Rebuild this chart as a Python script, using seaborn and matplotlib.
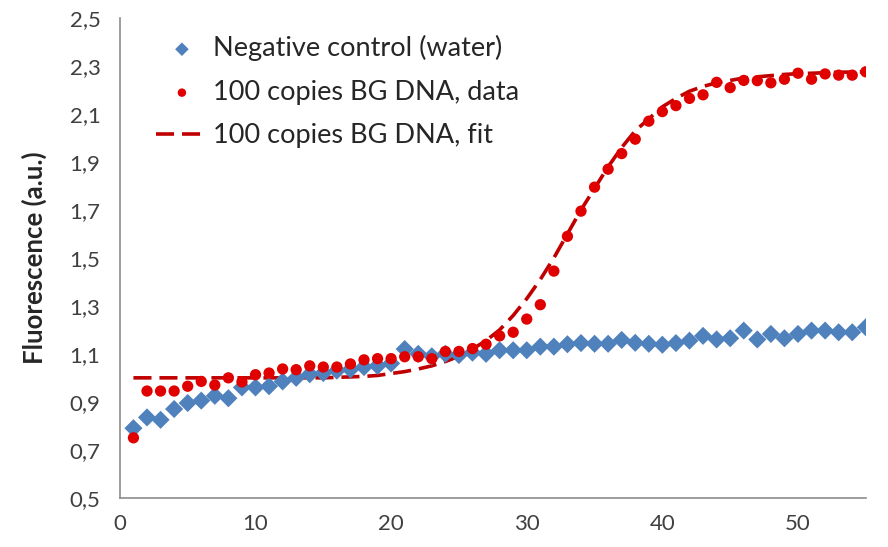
import seaborn as sb
import matplotlib.pyplot as plt
import pandas as pd
import numpy as np

# cycles 1..55
cycles = list(range(1, 56))

water = [0.79, 0.835, 0.825, 0.87, 0.895, 0.905, 0.925, 0.915, 0.96, 0.96,
         0.965, 0.985, 1.0, 1.015, 1.02, 1.03, 1.035, 1.045, 1.05, 1.06,
         1.12, 1.10, 1.09, 1.10, 1.095, 1.105, 1.10, 1.115, 1.115, 1.115,
         1.13, 1.13, 1.14, 1.145, 1.142, 1.142, 1.158, 1.146, 1.142, 1.138,
         1.145, 1.155, 1.175, 1.16, 1.165, 1.197, 1.16, 1.183, 1.165, 1.183,
         1.197, 1.197, 1.19, 1.19, 1.211]

bg_data = [0.75, 0.945, 0.945, 0.945, 0.965, 0.985, 0.97, 1.0, 0.983, 1.013,
           1.02, 1.037, 1.034, 1.05, 1.045, 1.045, 1.058, 1.075, 1.08, 1.08,
           1.088, 1.088, 1.08, 1.11, 1.11, 1.122, 1.14, 1.175, 1.19, 1.245,
           1.305, 1.445, 1.59, 1.695, 1.795, 1.87, 1.935, 1.995, 2.07, 2.11,
           2.135, 2.165, 2.18, 2.232, 2.21, 2.24, 2.239, 2.23, 2.245, 2.27,
           2.245, 2.267, 2.262, 2.262, 2.276]

bg_fit = [1.0, 1.0, 1.0, 1.0, 1.0, 1.0, 1.0, 1.0, 1.0, 1.0,
          1.0, 1.0, 1.0, 1.0, 1.0, 1.002, 1.004, 1.006, 1.01, 1.018,
          1.026, 1.037, 1.05, 1.068, 1.09, 1.12, 1.155, 1.2, 1.26, 1.33,
          1.41, 1.5, 1.6, 1.7, 1.79, 1.88, 1.96, 2.03, 2.08, 2.13,
          2.165, 2.195, 2.215, 2.23, 2.24, 2.25, 2.255, 2.26, 2.265, 2.268,
          2.27, 2.272, 2.274, 2.275, 2.276]

y_ticks = [0.5, 0.7, 0.9, 1.1, 1.3, 1.5, 1.7, 1.9, 2.1, 2.3, 2.5]
x_ticks = [0, 10, 20, 30, 40, 50]

df = pd.DataFrame({"cycle": cycles, "water": water, "data": bg_data, "fit": bg_fit})

sb.set_style("white")
plt.rcParams['font.family'] = ['Lato', 'DejaVu Sans']

fig = plt.figure(figsize=(8.88, 5.47), dpi=100)
ax = fig.add_axes([0.135, 0.09, 0.84, 0.877])

axis_grey = "#8c8c8c"
text_grey = "#404040"

sb.lineplot(x="cycle", y="fit", data=df, ax=ax, color="#C00000", linewidth=2.6,
            label="100 copies BG DNA, fit", zorder=2)
ax.lines[-1].set_dashes((5, 2.2))
sb.scatterplot(x="cycle", y="water", data=df, ax=ax, marker="D", s=85, color="#4F81BD",
               edgecolor="none", label="Negative control (water)", zorder=3)
sb.scatterplot(x="cycle", y="data", data=df, ax=ax, marker="o", s=66, color="#E00000",
               edgecolor="none", label="100 copies BG DNA, data", zorder=4)

ax.set_xlim(0, 55)
ax.set_ylim(0.5, 2.5)
ax.set_xticks(x_ticks)
ax.set_yticks(y_ticks)
ax.set_yticklabels([f"{v:.1f}".replace(".", ",") for v in y_ticks])
ax.set_xticklabels([str(v) for v in x_ticks])

for side in ["top", "right"]:
    ax.spines[side].set_visible(False)
for side in ["left", "bottom"]:
    ax.spines[side].set_color(axis_grey)
    ax.spines[side].set_linewidth(1.2)

ax.tick_params(axis="both", direction="out", length=5, width=1.2, color=axis_grey,
               labelcolor=text_grey, labelsize=16)
ax.tick_params(axis="x", pad=7)
ax.tick_params(axis="y", pad=9)

ax.set_xlabel("")
ax.set_ylabel("Fluorescence (a.u.)", fontsize=18.5, fontweight="bold", color="#262626", labelpad=16)

# legend order: water, data, fit
handles, labels = ax.get_legend_handles_labels()
order = [labels.index(l) for l in ["Negative control (water)", "100 copies BG DNA, data",
                                   "100 copies BG DNA, fit"]]
leg = ax.legend([handles[i] for i in order], [labels[i] for i in order],
                loc="upper left", bbox_to_anchor=(0.016, 1.015), frameon=False,
                fontsize=19.5, labelcolor="#262626", handlelength=1.9, handletextpad=0.2,
                labelspacing=0.68, markerscale=0.75)

plt.savefig("out.png", dpi=100)
plt.close("all")
